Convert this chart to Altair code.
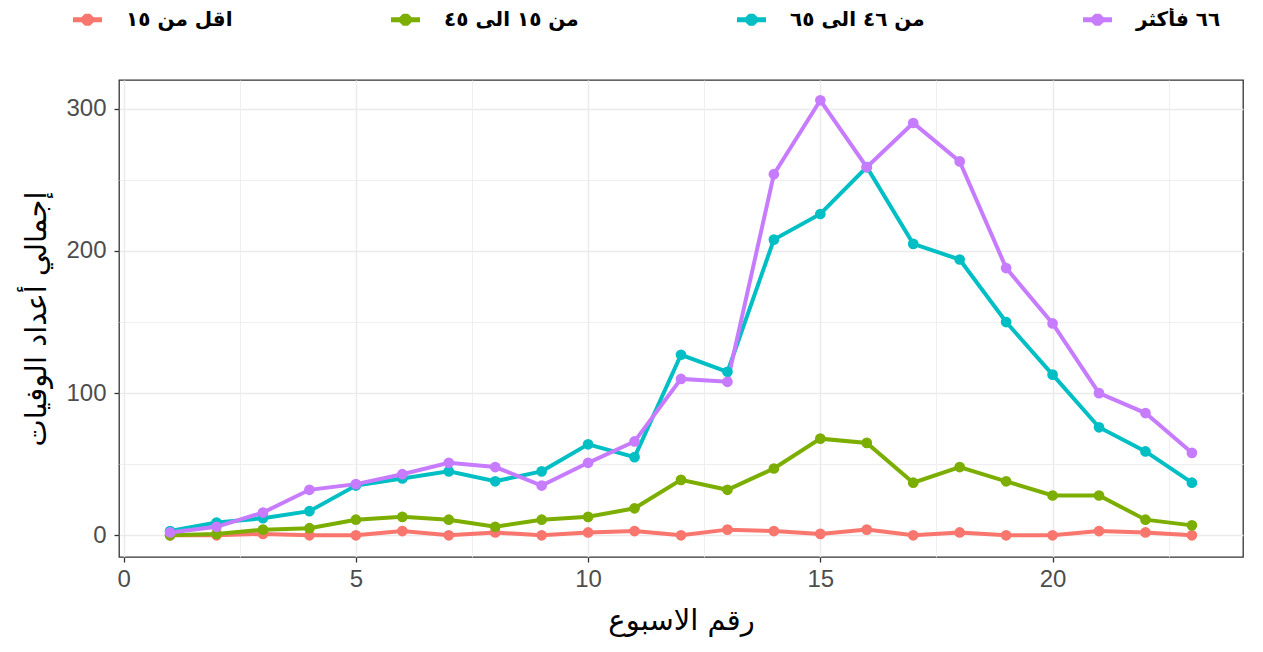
import altair as alt
import pandas as pd

weeks = list(range(1, 24))
groups = ["اقل من ١٥", "من ١٥ الى ٤٥", "من ٤٦ الى ٦٥", "٦٦ فأكثر"]
colors = ["#F8766D", "#7CAE00", "#00BFC4", "#C77CFF"]

under15 = [0, 0, 1, 0, 0, 3, 0, 2, 0, 2, 3, 0, 4, 3, 1, 4, 0, 2, 0, 0, 3, 2, 0]
age15_45 = [0, 1, 4, 5, 11, 13, 11, 6, 11, 13, 19, 39, 32, 47, 68, 65, 37, 48, 38, 28, 28, 11, 7]
age46_65 = [3, 9, 12, 17, 35, 40, 45, 38, 45, 64, 55, 127, 115, 208, 226, 259, 205, 194, 150, 113, 76, 59, 37]
age66 = [2, 6, 16, 32, 36, 43, 51, 48, 35, 51, 66, 110, 108, 254, 306, 259, 290, 263, 188, 149, 100, 86, 58]

x_grid = [i * 2.5 for i in range(0, 10)]
y_grid = [i * 50 for i in range(0, 7)]

rows = []
for g, vals in zip(groups, [under15, age15_45, age46_65, age66]):
    for w, v in zip(weeks, vals):
        rows.append({"week": w, "deaths": v, "group": g, "series": g})
df = pd.DataFrame(rows)

legend_symbol = ("M-1,-0.17L-0.42,-0.17L-0.17,-0.42L0.17,-0.42L0.42,-0.17L1,-0.17"
                 "L1,0.17L0.42,0.17L0.17,0.42L-0.17,0.42L-0.42,0.17L-1,0.17Z")

x = alt.X(
    "week:Q",
    scale=alt.Scale(domain=[-0.1, 24.1], nice=False, zero=False),
    axis=alt.Axis(
        values=x_grid,
        labelExpr="datum.value % 5 === 0 ? format(datum.value, 'd') : ''",
        tickOpacity={"condition": {"test": "datum.value % 5 !== 0", "value": 0}, "value": 1},
        gridWidth={"condition": {"test": "datum.value % 5 !== 0", "value": 0.8}, "value": 1.5},
        labelOverlap=False,
        labelPadding=5,
        titlePadding=15,
        title="رقم الاسبوع",
    ),
)
y = alt.Y(
    "deaths:Q",
    scale=alt.Scale(domain=[-15.25, 320.25], nice=False, zero=False),
    axis=alt.Axis(
        values=y_grid,
        labelExpr="datum.value % 100 === 0 ? format(datum.value, 'd') : ''",
        tickOpacity={"condition": {"test": "datum.value % 100 !== 0", "value": 0}, "value": 1},
        gridWidth={"condition": {"test": "datum.value % 100 !== 0", "value": 0.8}, "value": 1.5},
        labelOverlap=False,
        labelPadding=8,
        titlePadding=14,
        title="إجمالي أعداد الوفيات",
    ),
)

lines = alt.Chart(df).mark_line(strokeWidth=4).encode(
    x=x, y=y,
    stroke=alt.Stroke("series:N", scale=alt.Scale(domain=groups, range=colors),
                      sort=groups, legend=None),
)

points = alt.Chart(df).mark_point(filled=True, size=115, opacity=1).encode(
    x=x, y=y,
    fill=alt.Fill(
        "group:N", scale=alt.Scale(domain=groups, range=colors), sort=groups,
        legend=alt.Legend(
            orient="none", legendX=-46, legendY=-75,
            direction="horizontal", columns=4, gridAlign="each",
            columnPadding=158, symbolType=legend_symbol, symbolSize=841,
            symbolStrokeWidth=0, symbolOpacity=1, labelFont="DejaVu Sans", labelFontSize=20,
            labelFontWeight="bold", labelColor="#000000", labelOffset=24,
            labelLimit=400, title=None, padding=0,
        ),
    ),
)

chart = alt.layer(lines, points).resolve_scale(
    fill="independent", stroke="independent"
).properties(
    width=1124, height=477,
    autosize=alt.AutoSizeParams(type="none"),
    padding={"left": 111, "top": 72, "right": 8, "bottom": 80},
).configure_view(
    stroke="#333333", strokeWidth=1.3
).configure_axis(
    domain=False, tickColor="#333333", tickSize=5, tickWidth=1.3,
    labelColor="#4D4D4D", labelFont="Liberation Sans", labelFontSize=24,
    titleFont="DejaVu Sans", titleFontSize=29, titleFontWeight="normal",
    titleColor="#000000", gridColor="#EBEBEB",
)

chart.save("out.html", embed_options={"renderer": "svg", "actions": False})
